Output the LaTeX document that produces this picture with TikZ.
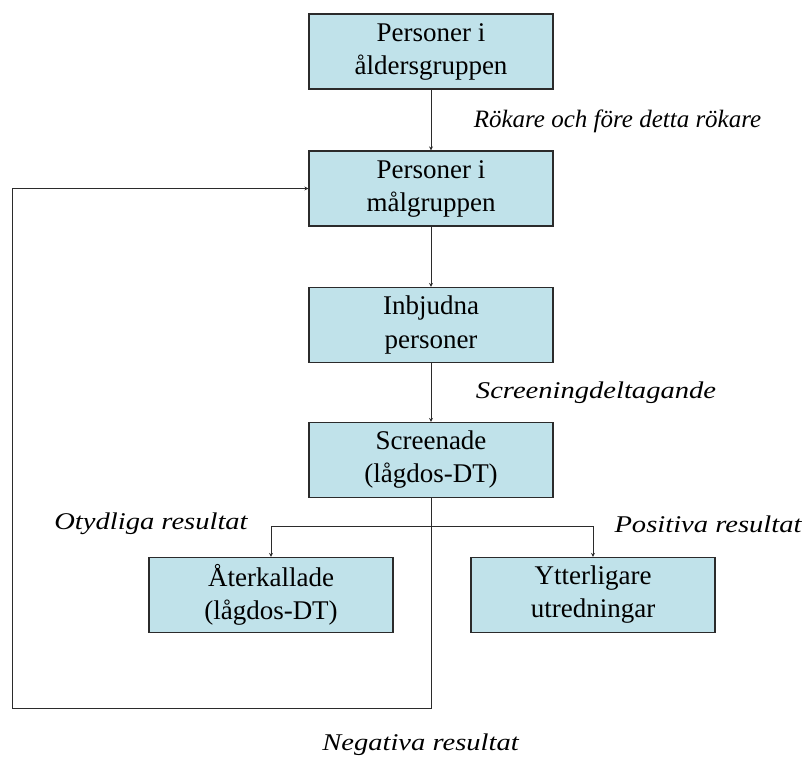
\documentclass[tikz,border=0pt]{standalone}
\usepackage{fontspec}
\setmainfont{Liberation Serif}
\newfontfamily\widelabel{Liberation Serif}[FakeStretch=1.19]
\usetikzlibrary{arrows.meta}
\definecolor{boxblue}{HTML}{C0E2EA}
\definecolor{boxline}{HTML}{2B2B2B}

\tikzset{
  flowbox/.style={draw=boxline, fill=boxblue, line width=1.2pt,
    minimum width=244pt, minimum height=75pt, inner sep=0pt,
    align=center, font=\fontsize{27}{33}\selectfont},
  steplabel/.style={font=\widelabel\fontsize{24}{28}\selectfont\itshape},
  flowarrow/.style={draw=boxline, line width=1pt, -{Stealth[length=4pt,width=4pt]}}
}

\begin{document}
\begin{tikzpicture}[x=1pt,y=-1pt]
  \useasboundingbox (0,0) rectangle (805,758);
  % rutor
  \node[flowbox] (alder) at (431,51.5) {Personer i\\åldersgruppen};
  \node[flowbox] (malgrupp) at (431,188.5) {Personer i\\målgruppen};
  \node[flowbox] (inbjudna) at (431,325) {Inbjudna\\personer};
  \node[flowbox] (screenade) at (431,460) {Screenade\\(lågdos-DT)};
  \node[flowbox] (aterkall) at (271,595) {Återkallade\\(lågdos-DT)};
  \node[flowbox] (utredn) at (593,595) {Ytterligare\\utredningar};
  % etiketter
  \node[font=\fontsize{25}{29}\selectfont\itshape] (rokare) at (617.5,121) {Rökare och före detta rökare};
  \node[steplabel] (deltag) at (596,393) {Screeningdeltagande};
  \node[steplabel] (otydlig) at (151,524) {Otydliga resultat};
  \node[steplabel] (positiv) at (708,524) {Positiva resultat};
  \node[steplabel] (negativ) at (420.5,745) {Negativa resultat};
  % pilar
  \draw[flowarrow] (alder) -- (malgrupp);
  \draw[flowarrow] (malgrupp) -- (inbjudna);
  \draw[flowarrow] (inbjudna) -- (screenade);
  \coordinate (gren) at (431,526);
  \draw[flowarrow] (gren) -| (aterkall);
  \draw[flowarrow] (gren) -| (utredn);
  \coordinate (hornneg) at (12,708);
  \draw[flowarrow] (screenade.south) |- (hornneg) |- (malgrupp.west);
\end{tikzpicture}
\end{document}
